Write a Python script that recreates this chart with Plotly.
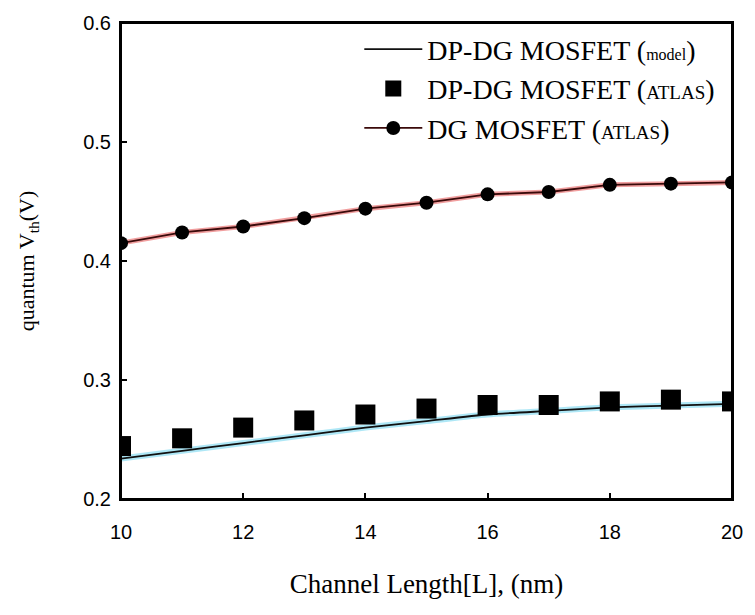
import plotly.graph_objects as go

# Data
channel_length = [10, 11, 12, 13, 14, 15, 16, 17, 18, 19, 20]
dpdg_model = [0.234, 0.2405, 0.247, 0.2535, 0.260, 0.2655, 0.271, 0.274, 0.277, 0.2785, 0.280]
dpdg_atlas = [0.2445, 0.251, 0.260, 0.266, 0.271, 0.276, 0.279, 0.279, 0.282, 0.2835, 0.282]
dg_atlas = [0.415, 0.424, 0.429, 0.436, 0.444, 0.449, 0.456, 0.458, 0.464, 0.465, 0.466]

x_ticks = [10, 12, 14, 16, 18, 20]
y_ticks = [0.2, 0.3, 0.4, 0.5, 0.6]

serif = "Liberation Serif, Times New Roman, serif"
sans = "Liberation Sans, Arial, sans-serif"

fig = go.Figure()

# glow under the model line
fig.add_trace(go.Scatter(x=channel_length, y=dpdg_model, mode="lines",
                         line=dict(color="rgba(120,215,240,0.6)", width=6, shape="spline", smoothing=0.6),
                         showlegend=False, hoverinfo="skip"))
fig.add_trace(go.Scatter(x=channel_length, y=dpdg_model, mode="lines",
                         line=dict(color="#111111", width=1.8, shape="spline", smoothing=0.6),
                         legendgroup="a",
                         name="DP-DG MOSFET (<span style='font-size:16px'>model</span>)"))
fig.add_trace(go.Scatter(x=channel_length, y=dpdg_atlas, mode="markers",
                         marker=dict(symbol="square", size=20, color="black"),
                         legendgroup="b",
                         name="DP-DG MOSFET (<span style='font-size:19px'>ATLAS</span>)"))
# red glow under DG line
fig.add_trace(go.Scatter(x=channel_length, y=dg_atlas, mode="lines",
                         line=dict(color="rgba(230,80,80,0.55)", width=5),
                         showlegend=False, hoverinfo="skip"))
fig.add_trace(go.Scatter(x=channel_length, y=dg_atlas, mode="lines+markers",
                         line=dict(color="#3a0a0a", width=1.8),
                         marker=dict(symbol="circle", size=14, color="black"),
                         legendgroup="c",
                         name="DG MOSFET (<span style='font-size:19px'>ATLAS</span>)"))

# frame around the plot area
fig.add_shape(type="rect", xref="paper", yref="paper", x0=0, y0=0, x1=1, y1=1,
              line=dict(color="black", width=2), layer="above")

fig.update_layout(
    width=755, height=615,
    margin=dict(l=121, r=18, t=14, b=116),
    paper_bgcolor="white", plot_bgcolor="white",
    showlegend=True,
    legend=dict(x=0.39, y=0.997, xanchor="left", yanchor="top",
                bgcolor="rgba(0,0,0,0)", font=dict(family=serif, size=28, color="black"),
                itemwidth=58, tracegroupgap=0),
    xaxis=dict(range=[10, 20], tickvals=x_ticks, ticktext=[str(v) for v in x_ticks],
               showline=True, linecolor="black", linewidth=2, mirror=True,
               ticks="inside", ticklen=6, tickwidth=1.5, tickcolor="black",
               showgrid=False, zeroline=False, ticklabelstandoff=14,
               ticklabeloverflow="allow",
               tickfont=dict(family=sans, size=20, color="black"),
               title=dict(text="Channel Length[L], (nm)", font=dict(family=serif, size=27, color="black"), standoff=32)),
    yaxis=dict(range=[0.2, 0.6], tickvals=y_ticks, ticktext=["0.2", "0.3", "0.4", "0.5", "0.6"],
               showline=True, linecolor="black", linewidth=2, mirror=True,
               ticks="inside", ticklen=6, tickwidth=1.5, tickcolor="black",
               showgrid=False, zeroline=False, ticklabelstandoff=4,
               ticklabeloverflow="allow",
               tickfont=dict(family=sans, size=20, color="black"),
               title=dict(text="quantum V<sub>th</sub>(V)", font=dict(family=serif, size=22, color="black"), standoff=42)),
)

fig.write_html("out.html", config={"displayModeBar": False},
               post_script="document.body.style.margin='0';document.body.style.overflow='hidden';")
